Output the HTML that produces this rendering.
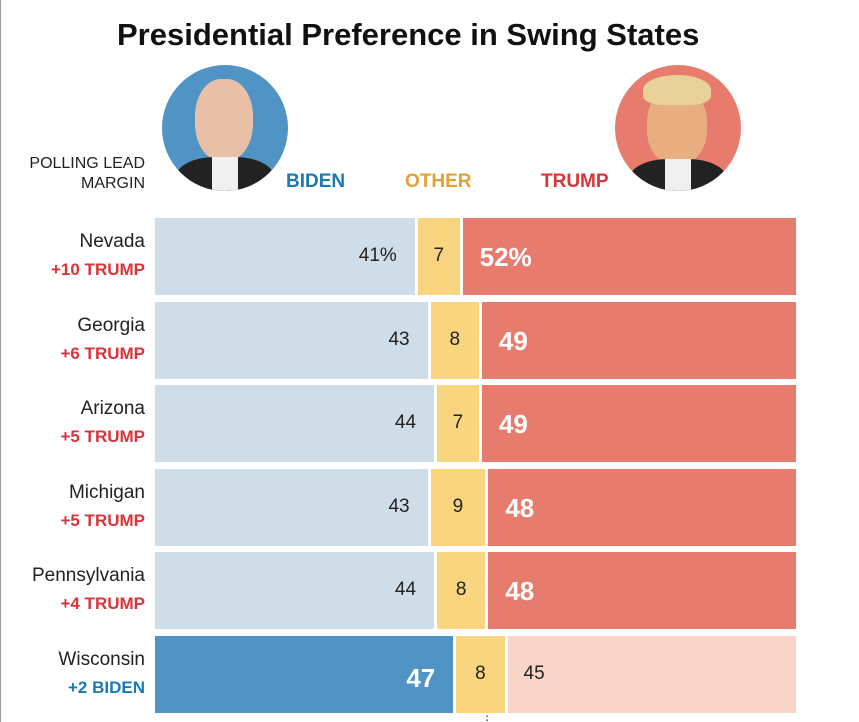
<!DOCTYPE html>
<html><head><meta charset="utf-8"><style>
body{margin:0;background:#fff;font-family:"Liberation Sans",sans-serif;}
#wrap{position:relative;width:859px;height:722px;overflow:hidden;border-left:1px solid #999;box-sizing:border-box;}
.t{position:absolute;white-space:nowrap;}
</style></head><body>
<div id="wrap">
<div class="t" style="left:116px;top:17px;font-size:31px;font-weight:bold;color:#111;">Presidential Preference in Swing States</div>
<div style="position:absolute;left:161px;top:65px;width:126px;height:126px;border-radius:50%;background:#4f94c4;overflow:hidden;">
 <div style="position:absolute;left:33px;top:14px;width:58px;height:82px;border-radius:45%;background:#e8c0a8;"></div>
 <div style="position:absolute;left:14px;top:92px;width:98px;height:50px;border-radius:40% 40% 0 0;background:#222;"></div>
 <div style="position:absolute;left:50px;top:92px;width:26px;height:40px;background:#f0f0f0;"></div>
</div>
<div style="position:absolute;left:614px;top:65px;width:126px;height:126px;border-radius:50%;background:#e77c6e;overflow:hidden;">
 <div style="position:absolute;left:32px;top:22px;width:60px;height:78px;border-radius:45%;background:#e9ae80;"></div>
 <div style="position:absolute;left:28px;top:10px;width:68px;height:30px;border-radius:50% 50% 30% 30%;background:#e8d29a;"></div>
 <div style="position:absolute;left:14px;top:94px;width:98px;height:50px;border-radius:40% 40% 0 0;background:#222;"></div>
 <div style="position:absolute;left:50px;top:94px;width:26px;height:40px;background:#f0f0f0;"></div>
</div>
<div class="t" style="right:714px;top:154px;font-size:16px;color:#222;text-align:right;line-height:20px;">POLLING LEAD<br>MARGIN</div>
<div class="t" style="left:285px;top:171px;font-size:19px;font-weight:bold;color:#1a7ab5;">BIDEN</div>
<div class="t" style="left:404px;top:171px;font-size:19px;font-weight:bold;color:#e3a033;">OTHER</div>
<div class="t" style="left:540px;top:171px;font-size:19px;font-weight:bold;color:#d9343a;">TRUMP</div>
<div class="t" style="left:480px;top:709px;font-size:12px;color:#333;">⋮</div>
</div>
<script>
const states=["Nevada","Georgia","Arizona","Michigan","Pennsylvania","Wisconsin"];
const biden=[41,43,44,43,44,47];
const other=[7,8,7,9,8,8];
const trump=[52,49,49,48,48,45];
const leads=["+10 TRUMP","+6 TRUMP","+5 TRUMP","+5 TRUMP","+4 TRUMP","+2 BIDEN"];
const X0=154,W=641,Y0=218,PITCH=83.6,H=77,GAP=3;
const x=p=>X0+p/100*W;
const wrap=document.getElementById('wrap');
function box(l,t,w,h,bg,name){const d=document.createElement('div');d.style.cssText=`position:absolute;left:${l}px;top:${t}px;width:${w}px;height:${h}px;background:${bg};`;


wrap.appendChild(d);return d;}
function txt(parent,s,css,name){const d=document.createElement('div');d.className='t';d.textContent=s;d.style.cssText+=css;


parent.appendChild(d);return d;}
states.forEach((s,i)=>{
 const y=Y0+i*PITCH;
 const bWin=biden[i]>trump[i];
 const xb=x(biden[i]),xo=x(biden[i]+other[i]);
 const b=box(X0,y,xb-X0-GAP,H,bWin?'#4f94c4':'#cfdde8','bar-biden-'+s.toLowerCase());
 const o=box(xb,y,xo-xb-GAP,H,'#f8d57e','bar-other-'+s.toLowerCase());
 const t=box(xo,y,X0+W-xo,H,bWin?'#f8d5c8':'#e77c6e','bar-trump-'+s.toLowerCase());
 txt(b,biden[i]+(i==0?'%':''),`right:18px;top:27px;font-size:${bWin?26:19}px;font-weight:${bWin?'bold':'normal'};color:${bWin?'#fff':'#222'};`,'value-biden');
 txt(o,String(other[i]),`left:0;right:0;text-align:center;top:27px;font-size:19px;color:#222;`,'value-other');
 txt(t,trump[i]+(i==0?'%':''),`left:${bWin?16:17}px;top:${bWin?27:24}px;font-size:${bWin?19:26}px;font-weight:${bWin?'normal':'bold'};color:${bWin?'#222':'#fff'};`,'value-trump');
 txt(wrap,s,`right:714px;top:${y+13}px;font-size:19px;color:#222;`,'state-label');
 txt(wrap,leads[i],`right:714px;top:${y+42}px;font-size:17px;font-weight:bold;color:${bWin?'#1a7ab5':'#d9343a'};`,'lead-label');
});
</script>
</body></html>
